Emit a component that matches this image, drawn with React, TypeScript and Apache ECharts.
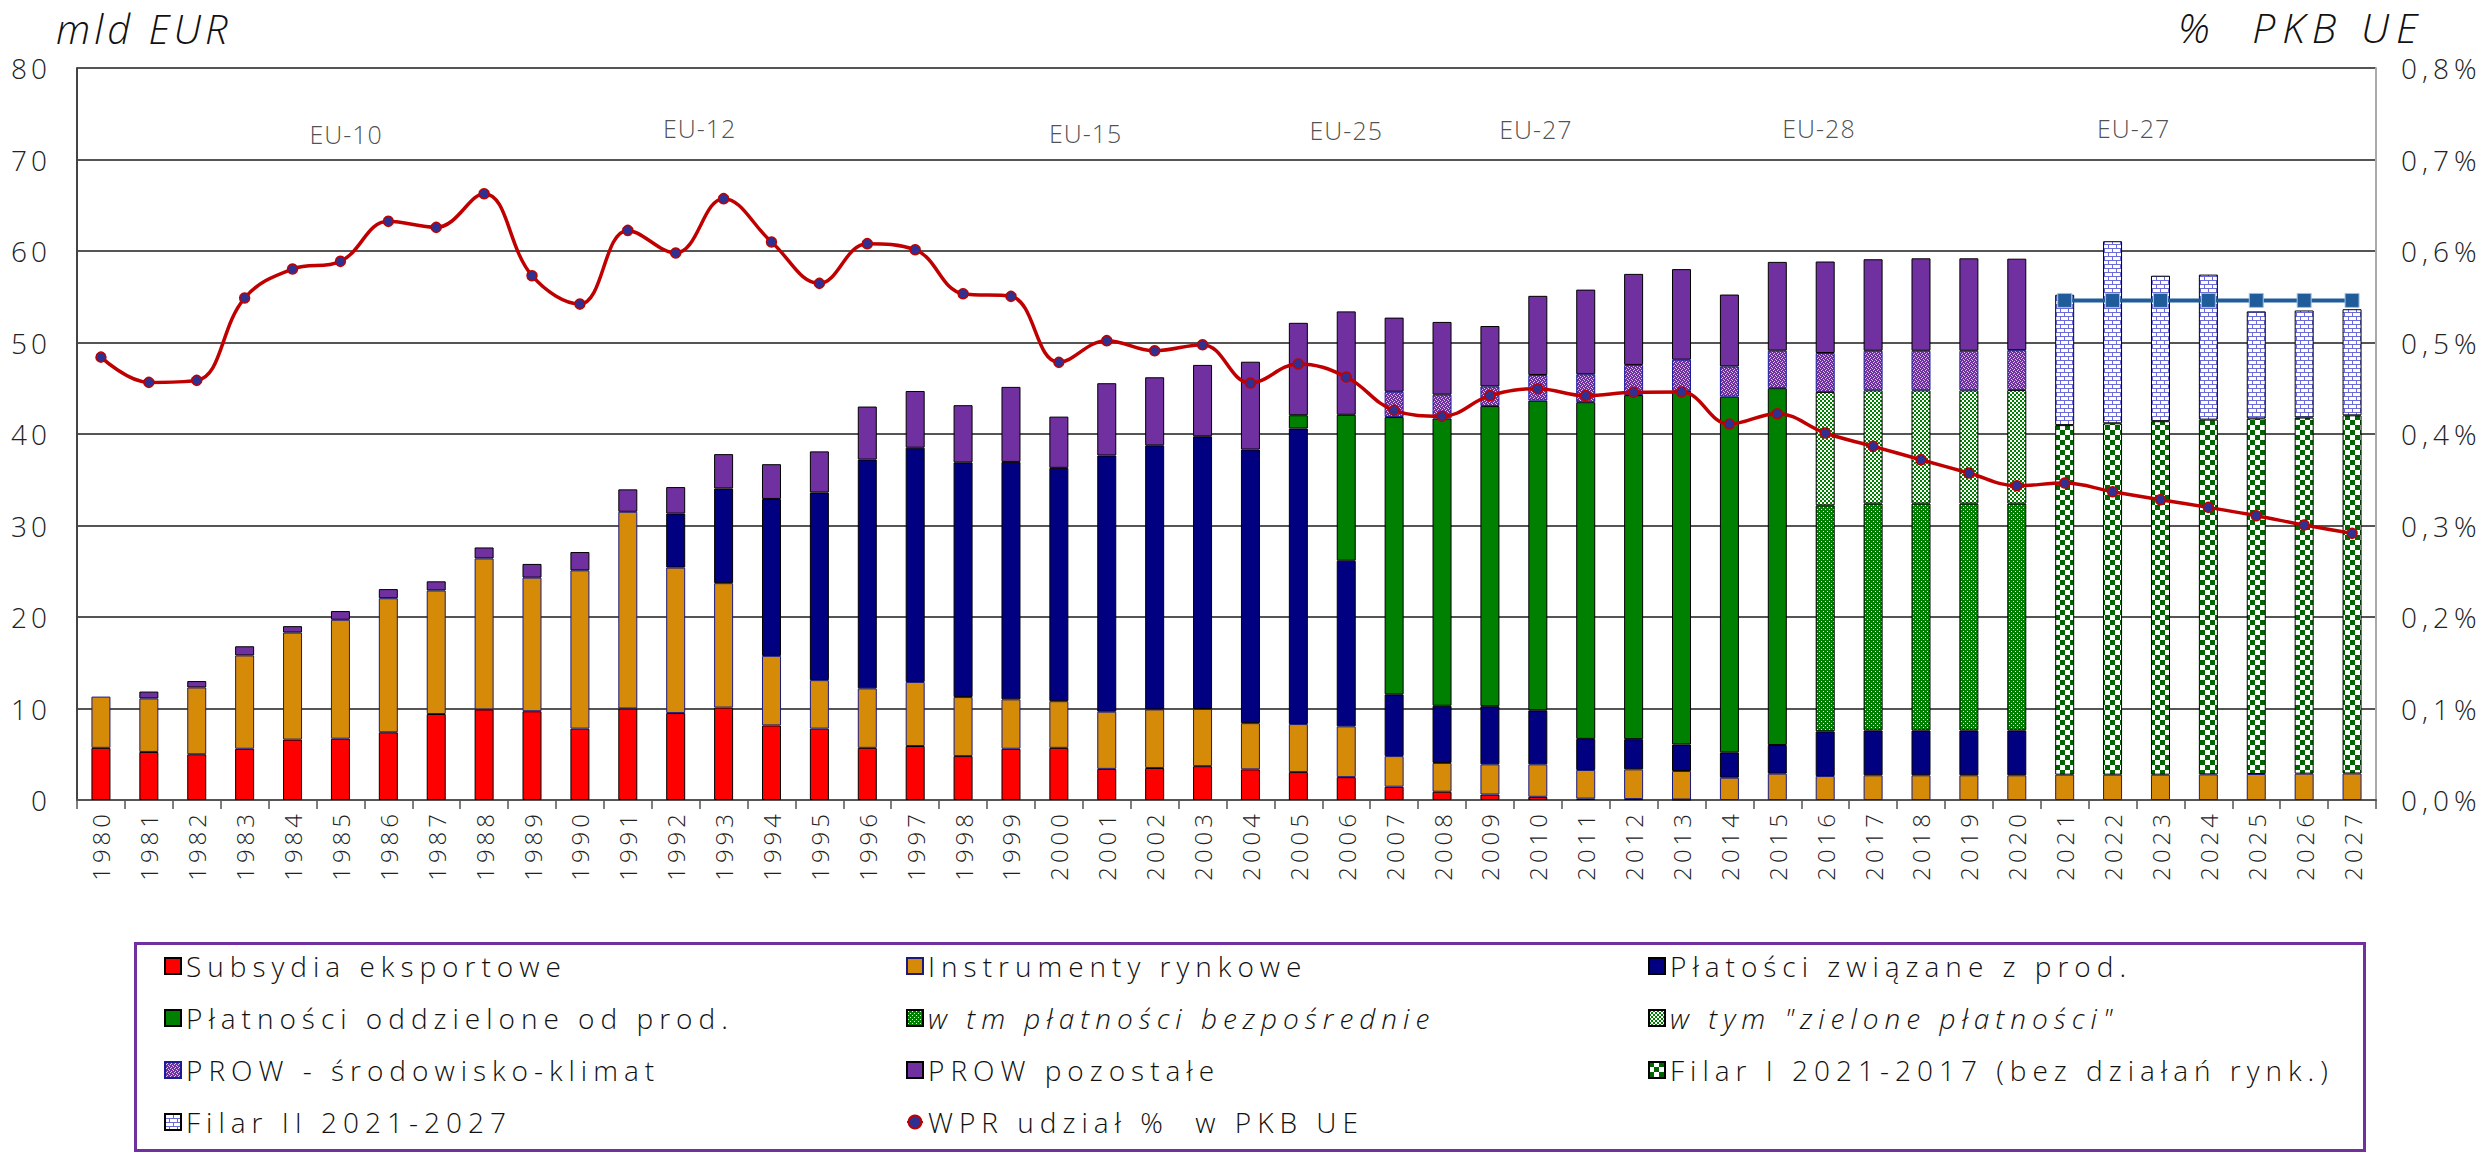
import React, { useEffect, useRef } from 'react';
import * as echarts from 'echarts';

const years = [
  '1980', '1981', '1982', '1983', '1984', '1985', '1986', '1987', '1988', '1989',
  '1990', '1991', '1992', '1993', '1994', '1995', '1996', '1997', '1998', '1999',
  '2000', '2001', '2002', '2003', '2004', '2005', '2006', '2007', '2008', '2009',
  '2010', '2011', '2012', '2013', '2014', '2015', '2016', '2017', '2018', '2019',
  '2020', '2021', '2022', '2023', '2024', '2025', '2026', '2027',
];

const N = null;

const subsydia = [
  5.7, 5.25, 5.0, 5.6, 6.6, 6.7, 7.4, 9.4, 9.9, 9.7,
  7.8, 10.0, 9.5, 10.1, 8.15, 7.8, 5.7, 5.9, 4.8, 5.6,
  5.7, 3.4, 3.5, 3.7, 3.35, 3.05, 2.5, 1.45, 0.9, 0.6,
  0.35, 0.15, 0.1, 0.05, N, N, N, N, N, N,
  N, N, N, N, N, N, N, N,
];

const instrumenty = [
  5.6, 5.85, 7.3, 10.2, 11.7, 13.0, 14.65, 13.5, 16.5, 14.6,
  17.3, 21.5, 15.9, 13.6, 7.6, 5.3, 6.5, 7.0, 6.45, 5.4,
  5.1, 6.25, 6.4, 6.25, 5.05, 5.25, 5.55, 3.35, 3.15, 3.3,
  3.55, 3.13, 3.25, 3.12, 2.44, 2.88, 2.62, 2.7, 2.7, 2.7,
  2.7, 2.77, 2.77, 2.77, 2.8, 2.84, 2.88, 2.9,
];

const zwiazane = [
  N, N, N, N, N, N, N, N, N, N,
  N, N, 5.9, 10.35, 17.15, 20.5, 25.0, 25.6, 25.65, 25.95,
  25.5, 28.0, 28.86, 29.8, 29.9, 32.3, 18.1, 6.75, 6.25, 6.35,
  5.9, 3.4, 3.3, 2.9, 2.77, 3.13, 4.88, 4.9, 4.9, 4.9,
  4.9, N, N, N, N, N, N, N,
];

const oddzielone = [
  N, N, N, N, N, N, N, N, N, N,
  N, N, N, N, N, N, N, N, N, N,
  N, N, N, N, N, 1.45, 15.95, 30.3, 31.4, 32.8,
  33.85, 36.8, 37.6, 38.65, 38.87, 39.0, N, N, N, N,
  N, N, N, N, N, N, N, N,
];

const bezposrednie = [
  N, N, N, N, N, N, N, N, N, N,
  N, N, N, N, N, N, N, N, N, N,
  N, N, N, N, N, N, N, N, N, N,
  N, N, N, N, N, N, 24.7, 24.8, 24.8, 24.8,
  24.8, N, N, N, N, N, N, N,
];

const zielone = [
  N, N, N, N, N, N, N, N, N, N,
  N, N, N, N, N, N, N, N, N, N,
  N, N, N, N, N, N, N, N, N, N,
  N, N, N, N, N, N, 12.4, 12.37, 12.37, 12.37,
  12.4, N, N, N, N, N, N, N,
];

const filar1 = [
  N, N, N, N, N, N, N, N, N, N,
  N, N, N, N, N, N, N, N, N, N,
  N, N, N, N, N, N, N, N, N, N,
  N, N, N, N, N, N, N, N, N, N,
  N, 38.2, 38.4, 38.63, 38.77, 38.86, 38.92, 39.14,
];

const prowKlimat = [
  N, N, N, N, N, N, N, N, N, N,
  N, N, N, N, N, N, N, N, N, N,
  N, N, N, N, N, N, N, 2.77, 2.6, 2.15,
  2.8, 3.05, 3.3, 3.4, 3.3, 4.1, 4.25, 4.33, 4.33, 4.33,
  4.36, N, N, N, N, N, N, N,
];

const prowPozostale = [
  N, 0.75, 0.7, 1.0, 0.7, 0.95, 1.0, 1.0, 1.2, 1.5,
  2.0, 2.45, 2.9, 3.75, 3.8, 4.5, 5.8, 6.2, 6.25, 8.2,
  5.6, 7.9, 7.44, 7.8, 9.6, 10.1, 11.3, 8.1, 7.95, 6.6,
  8.65, 9.25, 9.95, 9.9, 7.86, 9.7, 10.0, 10.0, 10.1, 10.1,
  10.0, N, N, N, N, N, N, N,
];

const filar2 = [
  N, N, N, N, N, N, N, N, N, N,
  N, N, N, N, N, N, N, N, N, N,
  N, N, N, N, N, N, N, N, N, N,
  N, N, N, N, N, N, N, N, N, N,
  N, 14.25, 19.9, 15.9, 15.85, 11.7, 11.7, 11.6,
];

const poziomFilar = [
  N, N, N, N, N, N, N, N, N, N,
  N, N, N, N, N, N, N, N, N, N,
  N, N, N, N, N, N, N, N, N, N,
  N, N, N, N, N, N, N, N, N, N,
  N, 54.6, 54.6, 54.6, 54.6, 54.6, 54.6, 54.6,
];

const wprPkb = [
  0.484, 0.4564, 0.4586, 0.5486, 0.5803, 0.5887, 0.6324, 0.6258, 0.6626, 0.573,
  0.542, 0.6225, 0.5978, 0.6572, 0.6098, 0.5646, 0.608, 0.6014, 0.5533, 0.5504,
  0.4783, 0.502, 0.491, 0.4976, 0.4557, 0.4765, 0.4623, 0.4258, 0.4193, 0.4419,
  0.4495, 0.4419, 0.4455, 0.4459, 0.4109, 0.4222, 0.4011, 0.3865, 0.3719, 0.3574,
  0.3435, 0.3464, 0.3369, 0.3282, 0.3198, 0.3107, 0.3005, 0.2914,
];

const enlargementLabels = ['EU-10', 'EU-12', 'EU-15', 'EU-25', 'EU-27', 'EU-28', 'EU-27'];
const enlargementX = [5.62, 13.0, 21.06, 26.5, 30.46, 36.37, 42.94];
const enlargementY = [72.8, 73.4, 72.9, 73.2, 73.3, 73.4, 73.4];

const leftTicks = { min: 0, max: 80, interval: 10 };
const rightTicks = { min: 0, max: 0.8, interval: 0.1 };

const NAMES = {
  sub: 'Subsydia eksportowe',
  ins: 'Instrumenty rynkowe',
  zw: 'Płatości związane z prod.',
  odd: 'Płatności oddzielone od prod.',
  bez: 'w tm płatności bezpośrednie',
  ziel: 'w tym "zielone płatności"',
  pk: 'PROW - środowisko-klimat',
  pp: 'PROW pozostałe',
  f1: 'Filar I 2021-2017 (bez działań rynk.)',
  f2: 'Filar II 2021-2027',
  wpr: 'WPR udział %  w PKB UE',
};

const TITLE_LEFT = 'mld EUR';
const TITLE_RIGHT = '%  PKB UE';

const FONT = '"Open Sans", "DejaVu Sans", sans-serif';

function makePattern(w: number, h: number, draw: (ctx: CanvasRenderingContext2D) => void) {
  const c = document.createElement('canvas');
  c.width = w;
  c.height = h;
  const ctx = c.getContext('2d') as CanvasRenderingContext2D;
  draw(ctx);
  return { image: c.toDataURL('image/png'), repeat: 'repeat', imageWidth: w, imageHeight: h } as any;
}

export default function App() {
  const ref = useRef<HTMLDivElement>(null);

  useEffect(() => {
    if (!ref.current) return;
    const chart = echarts.init(ref.current, undefined, { renderer: 'svg' });

    const patBez = makePattern(4, 4, (ctx) => {
      ctx.fillStyle = '#008000';
      ctx.fillRect(0, 0, 4, 4);
      ctx.fillStyle = '#ffffff';
      ctx.fillRect(1, 1, 1, 1);
      ctx.fillRect(3, 3, 1, 1);
    });
    const patZiel = makePattern(4, 4, (ctx) => {
      ctx.fillStyle = '#ffffff';
      ctx.fillRect(0, 0, 4, 4);
      ctx.fillStyle = '#008000';
      ctx.fillRect(0, 0, 2, 2);
      ctx.fillRect(2, 2, 2, 2);
    });
    const patF1 = makePattern(10, 10, (ctx) => {
      ctx.fillStyle = '#ffffff';
      ctx.fillRect(0, 0, 10, 10);
      ctx.fillStyle = '#006400';
      ctx.fillRect(0, 0, 5, 5);
      ctx.fillRect(5, 5, 5, 5);
    });
    const patPk = makePattern(4, 4, (ctx) => {
      ctx.fillStyle = '#7030A0';
      ctx.fillRect(0, 0, 4, 4);
      ctx.fillStyle = '#d9c6ee';
      ctx.fillRect(0, 0, 1, 1);
      ctx.fillRect(2, 1, 1, 1);
      ctx.fillRect(1, 2, 1, 1);
      ctx.fillRect(3, 3, 1, 1);
    });
    const patF2 = makePattern(8, 8, (ctx) => {
      ctx.fillStyle = '#ffffff';
      ctx.fillRect(0, 0, 8, 8);
      ctx.fillStyle = '#6a6ad8';
      ctx.fillRect(0, 0, 8, 1);
      ctx.fillRect(0, 4, 8, 1);
      ctx.fillRect(0, 0, 1, 4);
      ctx.fillRect(4, 4, 1, 4);
    });

    const barBase = {
      type: 'bar',
      stack: 'wpr',
      barWidth: 19,
      xAxisIndex: 0,
      yAxisIndex: 0,
    };

    const bar = (name: string, data: any[], color: any, border = '#000000') => ({
      ...barBase,
      name,
      data,
      itemStyle: { color, borderColor: border, borderWidth: 1 },
    });

    const legendCommon = {
      orient: 'vertical',
      itemWidth: 16,
      itemHeight: 16,
      itemGap: 22,
      selectedMode: false,
      textStyle: { fontSize: 28, fontFamily: FONT, fontWeight: 300, color: '#111', lineHeight: 30 },
    };

    const option: any = {
      animation: false,
      backgroundColor: '#ffffff',
      grid: { left: 77, right: 113, top: 68, bottom: 352, containLabel: false },
      legend: [
        {
          ...legendCommon,
          left: 159,
          top: 946,
          data: [
            { name: NAMES.sub, icon: 'rect' },
            { name: NAMES.odd, icon: 'rect' },
            { name: NAMES.pk, icon: 'rect' },
            { name: NAMES.f2, icon: 'rect' },
          ],
        },
        {
          ...legendCommon,
          left: 901,
          top: 946,
          data: [
            { name: NAMES.ins, icon: 'rect' },
            { name: NAMES.bez, icon: 'rect', textStyle: { fontStyle: 'italic' } },
            { name: NAMES.pp, icon: 'rect' },
            NAMES.wpr,
          ],
        },
        {
          ...legendCommon,
          left: 1643,
          top: 946,
          data: [
            { name: NAMES.zw, icon: 'rect' },
            { name: NAMES.ziel, icon: 'rect', textStyle: { fontStyle: 'italic' } },
            { name: NAMES.f1, icon: 'rect' },
          ],
        },
      ],
      xAxis: [
        {
          type: 'category',
          data: years,
          axisLine: { show: true, lineStyle: { color: '#555', width: 2 } },
          axisTick: { show: true, interval: 0, length: 9, lineStyle: { color: '#555', width: 1.5 } },
          axisLabel: {
            interval: 0,
            rotate: 90,
            fontSize: 24,
            fontFamily: FONT,
            fontWeight: 300,
            color: '#222',
            margin: 10,
          },
          splitLine: { show: false },
        },
        {
          type: 'value',
          min: 0,
          max: 48,
          show: false,
        },
      ],
      yAxis: [
        {
          type: 'value',
          ...leftTicks,
          axisLine: { show: true, lineStyle: { color: '#444', width: 2 } },
          axisTick: { show: false },
          axisLabel: { fontSize: 28, fontFamily: FONT, fontWeight: 300, color: '#222', margin: 26 },
          splitLine: { show: true, lineStyle: { color: '#555', width: 2 } },
        },
        {
          type: 'value',
          position: 'right',
          ...rightTicks,
          axisLine: { show: true, lineStyle: { color: '#aaa', width: 2 } },
          axisTick: { show: false },
          axisLabel: {
            fontSize: 28,
            fontFamily: FONT,
            fontWeight: 300,
            color: '#222',
            margin: 25,
            formatter: (v: number) => v.toFixed(1).replace('.', ',') + '%',
          },
          splitLine: { show: false },
        },
      ],
      series: [
        bar(NAMES.sub, subsydia, '#FF0000'),
        bar(NAMES.ins, instrumenty, '#D68B08', '#1a1a80'),
        bar(NAMES.zw, zwiazane, '#000080'),
        bar(NAMES.odd, oddzielone, '#008000'),
        bar(NAMES.bez, bezposrednie, patBez),
        bar(NAMES.ziel, zielone, patZiel),
        bar(NAMES.f1, filar1, patF1),
        bar(NAMES.pk, prowKlimat, patPk, '#1a1a9a'),
        bar(NAMES.pp, prowPozostale, '#7030A0'),
        bar(NAMES.f2, filar2, patF2),
        {
          name: 'poziom',
          type: 'line',
          xAxisIndex: 0,
          yAxisIndex: 0,
          data: poziomFilar,
          symbol: 'rect',
          symbolSize: 14,
          lineStyle: { color: '#1F5C99', width: 4 },
          itemStyle: { color: '#1F5C99', borderColor: '#9fc3e6', borderWidth: 1 },
          z: 5,
        },
        {
          name: NAMES.wpr,
          type: 'line',
          xAxisIndex: 0,
          yAxisIndex: 1,
          data: wprPkb,
          smooth: 0.4,
          symbol: 'circle',
          symbolSize: 10,
          showAllSymbol: true,
          lineStyle: { color: '#C00000', width: 3.5 },
          itemStyle: { color: '#2E3192', borderColor: '#C00000', borderWidth: 1.5 },
          z: 6,
        },
        {
          name: 'rozszerzenia',
          type: 'scatter',
          xAxisIndex: 1,
          yAxisIndex: 0,
          symbolSize: 1,
          silent: true,
          itemStyle: { color: 'rgba(0,0,0,0)' },
          data: enlargementLabels.map((l, i) => [enlargementX[i], enlargementY[i], l]),
          label: {
            show: true,
            position: 'inside',
            formatter: (p: any) => p.value[2],
            fontSize: 25,
            fontFamily: FONT,
            fontWeight: 300,
            color: '#222',
          },
        },
      ],
      graphic: [
        {
          type: 'text',
          left: 56,
          top: 8,
          style: {
            text: TITLE_LEFT,
            font: `italic 300 40px ${FONT}`,
            fill: '#111',
          },
        },
        {
          type: 'text',
          left: 2178,
          top: 6,
          style: {
            text: TITLE_RIGHT,
            font: `italic 300 41px ${FONT}`,
            fill: '#111',
          },
        },
        {
          type: 'rect',
          left: 133,
          top: 941,
          shape: { width: 2229, height: 207 },
          style: { fill: 'none', stroke: '#7030A0', lineWidth: 3 },
          z: -1,
        },
      ],
    };

    const legendSet = new Set(Object.values(NAMES));
    const applySpacing = () => {
      const root = ref.current;
      if (!root) return;
      root.querySelectorAll('text').forEach((t) => {
        const s = (t.textContent || '').trim();
        let sp: string | null = null;
        if (legendSet.has(s)) sp = '6';
        else if (/^\d{4}$/.test(s)) sp = '4';
        else if (/^\d+$/.test(s)) sp = '4';
        else if (/^\d,\d%$/.test(s)) sp = '5';
        else if (s === TITLE_LEFT) sp = '4';
        else if (s === TITLE_RIGHT.trim()) sp = '7';
        else if (s.startsWith('EU-')) sp = '1';
        if (sp !== null && t.getAttribute('letter-spacing') !== sp) t.setAttribute('letter-spacing', sp);
      });
    };

    chart.on('finished', applySpacing);
    chart.setOption(option);
    applySpacing();
    const timer = window.setTimeout(applySpacing, 50);
    return () => {
      window.clearTimeout(timer);
      chart.dispose();
    };
  }, []);

  return (
    <div
      ref={ref}
      style={{ position: 'fixed', left: 0, top: 0, width: 2489, height: 1152, background: '#fff' }}
    />
  );
}
